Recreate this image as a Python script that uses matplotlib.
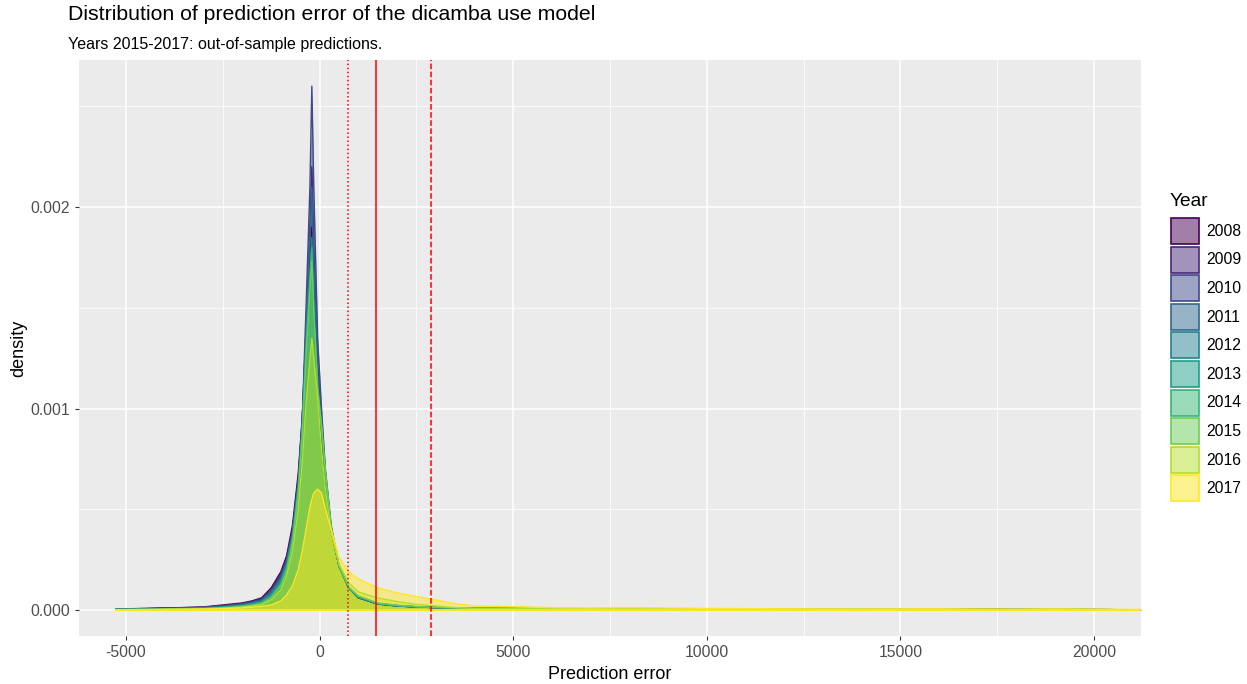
import matplotlib
matplotlib.use("Agg")
import matplotlib.pyplot as plt
from matplotlib.patches import Patch

plt.rcParams['font.family'] = ['Liberation Sans', 'DejaVu Sans']

# prediction error grid and density per year (units of 1e-4)
err = [-5250, -4500, -4000, -3500, -3000, -2500, -2000, -1750, -1500, -1250,
       -1000, -850, -700, -550, -450, -350, -250, -200, -150, -50,
       50, 150, 300, 500, 750, 1000, 1500, 2000, 2500, 3000,
       3500, 4000, 5000, 6000, 7000, 8000, 9000, 10000, 12000, 14000,
       16000, 17000, 18000, 19000, 20000, 21300]

d2008 = [0.05, 0.08, 0.1, 0.12, 0.15, 0.25, 0.35, 0.45, 0.6, 1.1, 1.9, 2.7, 4.2, 6.8, 9.5, 13.5, 17, 19,
         15.5, 11, 8.5, 6.3, 3.9, 2.2, 1.1, 0.65, 0.32, 0.22, 0.16, 0.12, 0.1, 0.08, 0.07, 0.06, 0.05, 0.04,
         0.04, 0.03, 0.03, 0.02, 0.02, 0.04, 0.02, 0.03, 0.02, 0.01]
d2009 = [0.05, 0.07, 0.1, 0.12, 0.14, 0.22, 0.32, 0.42, 0.55, 1.0, 1.8, 2.6, 4.0, 6.6, 9.4, 14, 19, 22,
         18, 12.2, 9.2, 6.7, 4.0, 2.2, 1.1, 0.62, 0.3, 0.2, 0.15, 0.12, 0.1, 0.08, 0.07, 0.06, 0.05, 0.04,
         0.04, 0.03, 0.02, 0.02, 0.02, 0.03, 0.02, 0.02, 0.02, 0.01]
d2010 = [0.04, 0.06, 0.08, 0.1, 0.13, 0.2, 0.3, 0.4, 0.52, 0.95, 1.7, 2.5, 3.9, 6.4, 9.3, 15, 21, 26,
         21, 13.5, 10, 7.0, 4.2, 2.2, 1.1, 0.6, 0.3, 0.2, 0.15, 0.12, 0.1, 0.08, 0.07, 0.06, 0.05, 0.04,
         0.03, 0.03, 0.02, 0.02, 0.02, 0.02, 0.02, 0.02, 0.02, 0.01]
d2011 = [0.04, 0.05, 0.07, 0.09, 0.12, 0.18, 0.28, 0.37, 0.48, 0.9, 1.6, 2.4, 3.8, 6.3, 9.2, 14, 18.5, 21,
         17.2, 11.8, 9.2, 6.7, 4.0, 2.2, 1.1, 0.62, 0.3, 0.21, 0.15, 0.12, 0.1, 0.08, 0.07, 0.06, 0.05, 0.04,
         0.04, 0.03, 0.02, 0.02, 0.02, 0.03, 0.02, 0.02, 0.02, 0.01]
d2012 = [0.03, 0.04, 0.06, 0.08, 0.1, 0.16, 0.25, 0.33, 0.44, 0.82, 1.5, 2.3, 3.7, 6.2, 9.0, 13.3, 16.8, 18.5,
         15.3, 11, 9.0, 6.7, 4.0, 2.2, 1.1, 0.64, 0.31, 0.21, 0.16, 0.12, 0.1, 0.08, 0.07, 0.06, 0.05, 0.05,
         0.04, 0.03, 0.02, 0.02, 0.02, 0.02, 0.03, 0.02, 0.02, 0.01]
d2013 = [0.03, 0.04, 0.05, 0.07, 0.09, 0.14, 0.22, 0.3, 0.4, 0.75, 1.4, 2.2, 3.6, 6.1, 8.9, 13, 16, 17.5,
         14.7, 10.8, 9.0, 6.7, 4.0, 2.2, 1.1, 0.65, 0.32, 0.22, 0.16, 0.12, 0.1, 0.08, 0.07, 0.06, 0.06, 0.05,
         0.04, 0.03, 0.02, 0.02, 0.02, 0.02, 0.02, 0.03, 0.02, 0.01]
d2014 = [0.02, 0.03, 0.04, 0.06, 0.08, 0.12, 0.2, 0.27, 0.36, 0.68, 1.3, 2.1, 3.5, 6.0, 8.8, 13, 16.5, 18,
         15, 11, 9.1, 6.8, 4.0, 2.2, 1.1, 0.66, 0.33, 0.22, 0.16, 0.12, 0.1, 0.08, 0.07, 0.06, 0.06, 0.05,
         0.04, 0.03, 0.02, 0.02, 0.02, 0.02, 0.02, 0.02, 0.02, 0.01]
d2015 = [0.02, 0.03, 0.04, 0.05, 0.07, 0.1, 0.17, 0.23, 0.31, 0.6, 1.2, 1.95, 3.3, 5.8, 8.6, 12.5, 15.8, 17.3,
         14.8, 11, 9.2, 6.9, 4.1, 2.2, 1.15, 0.7, 0.35, 0.24, 0.17, 0.13, 0.11, 0.09, 0.08, 0.07, 0.06, 0.06,
         0.05, 0.04, 0.03, 0.02, 0.02, 0.02, 0.02, 0.02, 0.02, 0.01]
d2016 = [0.02, 0.02, 0.03, 0.04, 0.06, 0.09, 0.15, 0.2, 0.27, 0.5, 1.0, 1.7, 2.9, 5.0, 7.3, 10.2, 12.5, 13.5,
         12.5, 10.5, 8, 6, 3.8, 2.3, 1.35, 0.9, 0.6, 0.42, 0.28, 0.2, 0.12, 0.08, 0.08, 0.07, 0.06, 0.07,
         0.06, 0.04, 0.03, 0.03, 0.02, 0.02, 0.02, 0.02, 0.02, 0.01]
d2017 = [0.01, 0.02, 0.03, 0.04, 0.05, 0.07, 0.1, 0.14, 0.18, 0.25, 0.45, 0.75, 1.2, 2.0, 2.9, 4.0, 5.1, 5.5,
         5.8, 6.0, 5.8, 5.0, 4.0, 2.6, 1.9, 1.55, 1.1, 0.85, 0.67, 0.5, 0.32, 0.2, 0.17, 0.12, 0.1, 0.12,
         0.1, 0.08, 0.06, 0.05, 0.06, 0.05, 0.04, 0.06, 0.04, 0.03]

years = ['2008', '2009', '2010', '2011', '2012', '2013', '2014', '2015', '2016', '2017']
dens = [d2008, d2009, d2010, d2011, d2012, d2013, d2014, d2015, d2016, d2017]
colors = ['#440154', '#482878', '#3E4A89', '#31688E', '#26828E',
          '#1F9E89', '#35B779', '#6DCD59', '#B4DE2C', '#FDE725']

# reference lines (dotted, solid, dashed)
vlines = [723, 1445, 2865]
vstyles = [':', '-', '--']

fig = plt.figure(figsize=(12.47, 6.84), dpi=100)
ax = fig.add_axes([79/1247, 1 - 636/684, (1141 - 79)/1247, (636 - 60)/684])
ax.set_facecolor('#EBEBEB')
for s in ax.spines.values():
    s.set_visible(False)

ax.set_xlim(-6213, 21213)
ax.set_ylim(-0.000129, 0.00273)
ax.set_xticks([-5000, 0, 5000, 10000, 15000, 20000])
ax.set_xticklabels(['-5000', '0', '5000', '10000', '15000', '20000'])
ax.set_xticks([-2500, 2500, 7500, 12500, 17500], minor=True)
ax.set_yticks([0, 0.001, 0.002])
ax.set_yticklabels(['0.000', '0.001', '0.002'])
ax.set_yticks([0.0005, 0.0015, 0.0025], minor=True)
ax.grid(which='major', color='white', lw=1.1)
ax.grid(which='minor', color='white', lw=0.55)
ax.set_axisbelow(True)
ax.tick_params(which='major', length=3, color='#333333', labelcolor='#4D4D4D', labelsize=11.3, width=0.8)
ax.tick_params(which='minor', length=0)

for yr, d, c in zip(years, dens, colors):
    y = [v * 1e-4 for v in d]
    ax.fill_between(err, 0, y, color=c, alpha=0.5, lw=0)
    ax.plot(err, y, color=c, lw=1.0)
    ax.plot([err[0], err[-1]], [0, 0], color=c, lw=1.3)

for xv, ls in zip(vlines, vstyles):
    ax.axvline(xv, color='red', ls=ls, lw=1.1)

ax.set_xlabel('Prediction error', fontsize=13, labelpad=4)
ax.set_ylabel('density', fontsize=13, labelpad=2)

fig.text(68/1247, 1 - 15/684, 'Distribution of prediction error of the dicamba use model',
         fontsize=15.3, va='center', ha='left')
fig.text(68/1247, 1 - 44/684, 'Years 2015-2017: out-of-sample predictions.',
         fontsize=11.5, va='center', ha='left')

handles = []
for c in colors:
    handles.append(Patch(facecolor=matplotlib.colors.to_rgba(c, 0.5), edgecolor=c, lw=1.2))
fig.text(1170/1247, 1 - 201/684, 'Year', fontsize=13.8, va='center', ha='left')
fig.legend(handles, years, loc='upper left', bbox_to_anchor=(1171/1247, 1 - 218/684),
           frameon=False, fontsize=11.3,
           handlelength=1.78, handleheight=2.17, labelspacing=0.166, handletextpad=0.45,
           borderpad=0, borderaxespad=0)

fig.savefig('out.png', dpi=100)
